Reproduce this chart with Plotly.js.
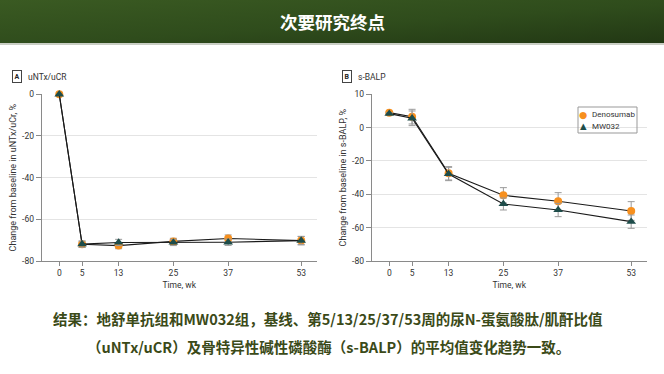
<!DOCTYPE html>
<html><head><meta charset="utf-8">
<script src="https://cdn.plot.ly/plotly-3.0.1.min.js"></script>
<style>html,body{margin:0;padding:0;background:#fff}#chart{width:664px;height:374px}</style>
</head><body><div id="chart"></div>
<script>
// ---- data ----
const weeks = [0, 5, 13, 25, 37, 53];
const weekTicks = [0, 5, 13, 25, 37, 53];
const seriesNames = ["Denosumab", "MW032"];

// Panel A: uNTx/uCR, change from baseline (%)
const untxDenosumab    = [0, -72.0, -72.6, -70.6, -69.2, -70.2];
const untxDenosumabErr = [0.4, 1.5, 1.5, 1.5, 1.7, 2.0];
const untxMW032        = [0, -71.9, -71.1, -71.1, -71.0, -70.2];
const untxMW032Err     = [0.4, 1.5, 1.5, 1.5, 1.5, 2.0];
const untxTickVals = [0, -20, -40, -60, -80];
const untxTickText = ["0", "-20", "-40", "-60", "-80"];

// Panel B: s-BALP (axis units; top gridline is labelled "10" in the source)
const balpDenosumab    = [9.0, 6.6, -27.4, -40.6, -44.2, -50.0];
const balpDenosumabErr = [0.5, 4.4, 4.0, 4.6, 5.2, 5.6];
const balpMW032        = [8.4, 5.6, -27.8, -45.8, -49.4, -56.4];
const balpMW032Err     = [0.5, 4.4, 4.0, 3.6, 4.0, 4.0];
const balpTickVals = [20, 0, -20, -40, -60, -80];
const balpTickText = ["10", "0", "-20", "-40", "-60", "-80"];

const slideTitle = "次要研究终点";
const captionLines = [
  "结果：地舒单抗组和MW032组，基线、第5/13/25/37/53周的尿N-蛋氨酸肽/肌酐比值",
  "（uNTx/uCR）及骨特异性碱性磷酸酶（s-BALP）的平均值变化趋势一致。"
];

// ---- styling ----
const W = 664, H = 374;
const px = x => x / W, py = y => 1 - y / H;
const ORANGE = "#f7901e", TEAL = "#1e4d4a", LINE = "#1a1a1a", ERR = "#9a9a9a";
const tickFont = {family: "Roboto, 'Liberation Sans', sans-serif", size: 8.5, color: "#333"};

function seriesTraces(y, err, color, symbol, size, xa, ya) {
  return [
    {x: weeks, y: y, xaxis: xa, yaxis: ya, type: "scatter", mode: "lines",
     line: {color: LINE, width: 1.1}, showlegend: false, hoverinfo: "skip", cliponaxis: false},
    {x: weeks, y: y, xaxis: xa, yaxis: ya, type: "scatter", mode: "markers",
     marker: {color: color, symbol: symbol, size: size, line: {width: 0}},
     error_y: {type: "data", array: err, visible: true, color: ERR, thickness: 1, width: 3.5},
     showlegend: false, cliponaxis: false}
  ];
}

const traces = [].concat(
  seriesTraces(untxDenosumab, untxDenosumabErr, ORANGE, "circle", 8, "x", "y"),
  seriesTraces(untxMW032, untxMW032Err, TEAL, "triangle-up", 8.5, "x", "y"),
  seriesTraces(balpDenosumab, balpDenosumabErr, ORANGE, "circle", 8, "x2", "y2"),
  seriesTraces(balpMW032, balpMW032Err, TEAL, "triangle-up", 8.5, "x2", "y2")
);

const xCommon = {
  range: [-3.85, 56.4], tickvals: weekTicks, ticktext: weekTicks.map(String),
  showgrid: false, zeroline: false, showline: true, linecolor: "#8a8a8a", linewidth: 1,
  ticks: "outside", ticklen: 4, tickcolor: "#8a8a8a", tickfont: tickFont, fixedrange: true,
  title: {text: "Time, wk", font: {family: tickFont.family, size: 8.5, color: "#333"}, standoff: 4}
};
const yCommon = {
  showgrid: true, gridcolor: "#e4e4e4", gridwidth: 1, zeroline: false,
  showline: true, linecolor: "#8a8a8a", linewidth: 1,
  ticks: "outside", ticklen: 5, tickcolor: "#8a8a8a", tickfont: tickFont, fixedrange: true
};

const gradSvg = '<svg xmlns="http://www.w3.org/2000/svg" width="664" height="43" preserveAspectRatio="none">' +
  '<defs><linearGradient id="g" x1="0" y1="0" x2="1" y2="1">' +
  '<stop offset="0" stop-color="#3a5a22"/><stop offset="0.55" stop-color="#2f4c1c"/><stop offset="1" stop-color="#223814"/>' +
  '</linearGradient></defs><rect width="664" height="43" fill="url(#g)"/></svg>';

const annFont = {family: "Roboto, 'Liberation Sans', sans-serif", size: 8.5, color: "#333"};
const capFont = {family: "'Noto Sans CJK SC', 'Noto Sans', sans-serif", size: 14.5, color: "#3b4a18"};

const annotations = [
  {xref: "paper", yref: "paper", x: 0.5, y: py(21.5), text: "<b>" + slideTitle + "</b>", showarrow: false,
   xanchor: "center", yanchor: "middle",
   font: {family: "'Noto Sans CJK SC', sans-serif", size: 17.5, color: "#ffffff"}},
  // panel labels
  {xref: "paper", yref: "paper", x: px(16.5), y: py(77), text: "<b>A</b>", showarrow: false,
   xanchor: "center", yanchor: "middle", bordercolor: "#444", borderwidth: 1, borderpad: 1.5,
   font: {family: annFont.family, size: 7, color: "#222"}},
  {xref: "paper", yref: "paper", x: px(26), y: py(77), text: "uNTx/uCR", showarrow: false,
   xanchor: "left", yanchor: "middle", font: annFont},
  {xref: "paper", yref: "paper", x: px(346.5), y: py(77), text: "<b>B</b>", showarrow: false,
   xanchor: "center", yanchor: "middle", bordercolor: "#444", borderwidth: 1, borderpad: 1.5,
   font: {family: annFont.family, size: 7, color: "#222"}},
  {xref: "paper", yref: "paper", x: px(356), y: py(77), text: "s-BALP", showarrow: false,
   xanchor: "left", yanchor: "middle", font: annFont},
  // legend (panel B)
  {xref: "paper", yref: "paper", x: px(583), y: py(114), text: "●", showarrow: false,
   xanchor: "center", yanchor: "middle", font: {family: "DejaVu Sans", size: 9.5, color: ORANGE}},
  {xref: "paper", yref: "paper", x: px(590), y: py(114), text: seriesNames[0], showarrow: false,
   xanchor: "left", yanchor: "middle", font: {family: annFont.family, size: 8, color: "#333"}},
  {xref: "paper", yref: "paper", x: px(583), y: py(126), text: "▲", showarrow: false,
   xanchor: "center", yanchor: "middle", font: {family: "DejaVu Sans", size: 8.5, color: TEAL}},
  {xref: "paper", yref: "paper", x: px(590), y: py(126), text: seriesNames[1], showarrow: false,
   xanchor: "left", yanchor: "middle", font: {family: annFont.family, size: 8, color: "#333"}},
  // caption
  {xref: "paper", yref: "paper", x: 0.494, y: py(318), text: "<b>" + captionLines[0] + "</b>", showarrow: false,
   xanchor: "center", yanchor: "middle", font: capFont},
  {xref: "paper", yref: "paper", x: 0.494, y: py(346), text: "<b>" + captionLines[1] + "</b>", showarrow: false,
   xanchor: "center", yanchor: "middle", font: capFont}
];

const layout = {
  width: W, height: H, autosize: false,
  margin: {l: 0, r: 0, t: 0, b: 0, pad: 0},
  paper_bgcolor: "#ffffff", plot_bgcolor: "#ffffff",
  showlegend: false,
  xaxis: Object.assign({}, xCommon, {domain: [px(41.7), px(316.7)], anchor: "y"}),
  xaxis2: Object.assign({}, xCommon, {domain: [px(371.7), px(646.7)], anchor: "y2"}),
  yaxis: Object.assign({}, yCommon, {domain: [py(261), py(94.3)], anchor: "x",
    range: [-80, 0], tickvals: untxTickVals, ticktext: untxTickText,
    title: {text: "Change from baseline in uNTx/uCr, %", font: {family: tickFont.family, size: 9, color: "#333"}, standoff: 3}}),
  yaxis2: Object.assign({}, yCommon, {domain: [py(261), py(94.3)], anchor: "x2",
    range: [-80, 20], tickvals: balpTickVals, ticktext: balpTickText,
    title: {text: "Change from baseline in s-BALP, %", font: {family: tickFont.family, size: 9, color: "#333"}, standoff: 3}}),
  images: [{source: "data:image/svg+xml;charset=utf-8," + encodeURIComponent(gradSvg),
    xref: "paper", yref: "paper", x: 0, y: 1, sizex: 1, sizey: 43 / H,
    xanchor: "left", yanchor: "top", sizing: "stretch", layer: "below"}],
  shapes: [
    {type: "line", xref: "paper", yref: "paper", x0: 0, x1: 1, y0: py(44), y1: py(44),
     line: {color: "#c9cec4", width: 2}},
    {type: "rect", xref: "paper", yref: "paper", x0: px(578), x1: px(637), y0: py(133), y1: py(107),
     line: {color: "#999", width: 1}, fillcolor: "rgba(255,255,255,0)"}
  ],
  annotations: annotations
};

Plotly.newPlot("chart", traces, layout, {staticPlot: true, displayModeBar: false});
</script></body></html>
